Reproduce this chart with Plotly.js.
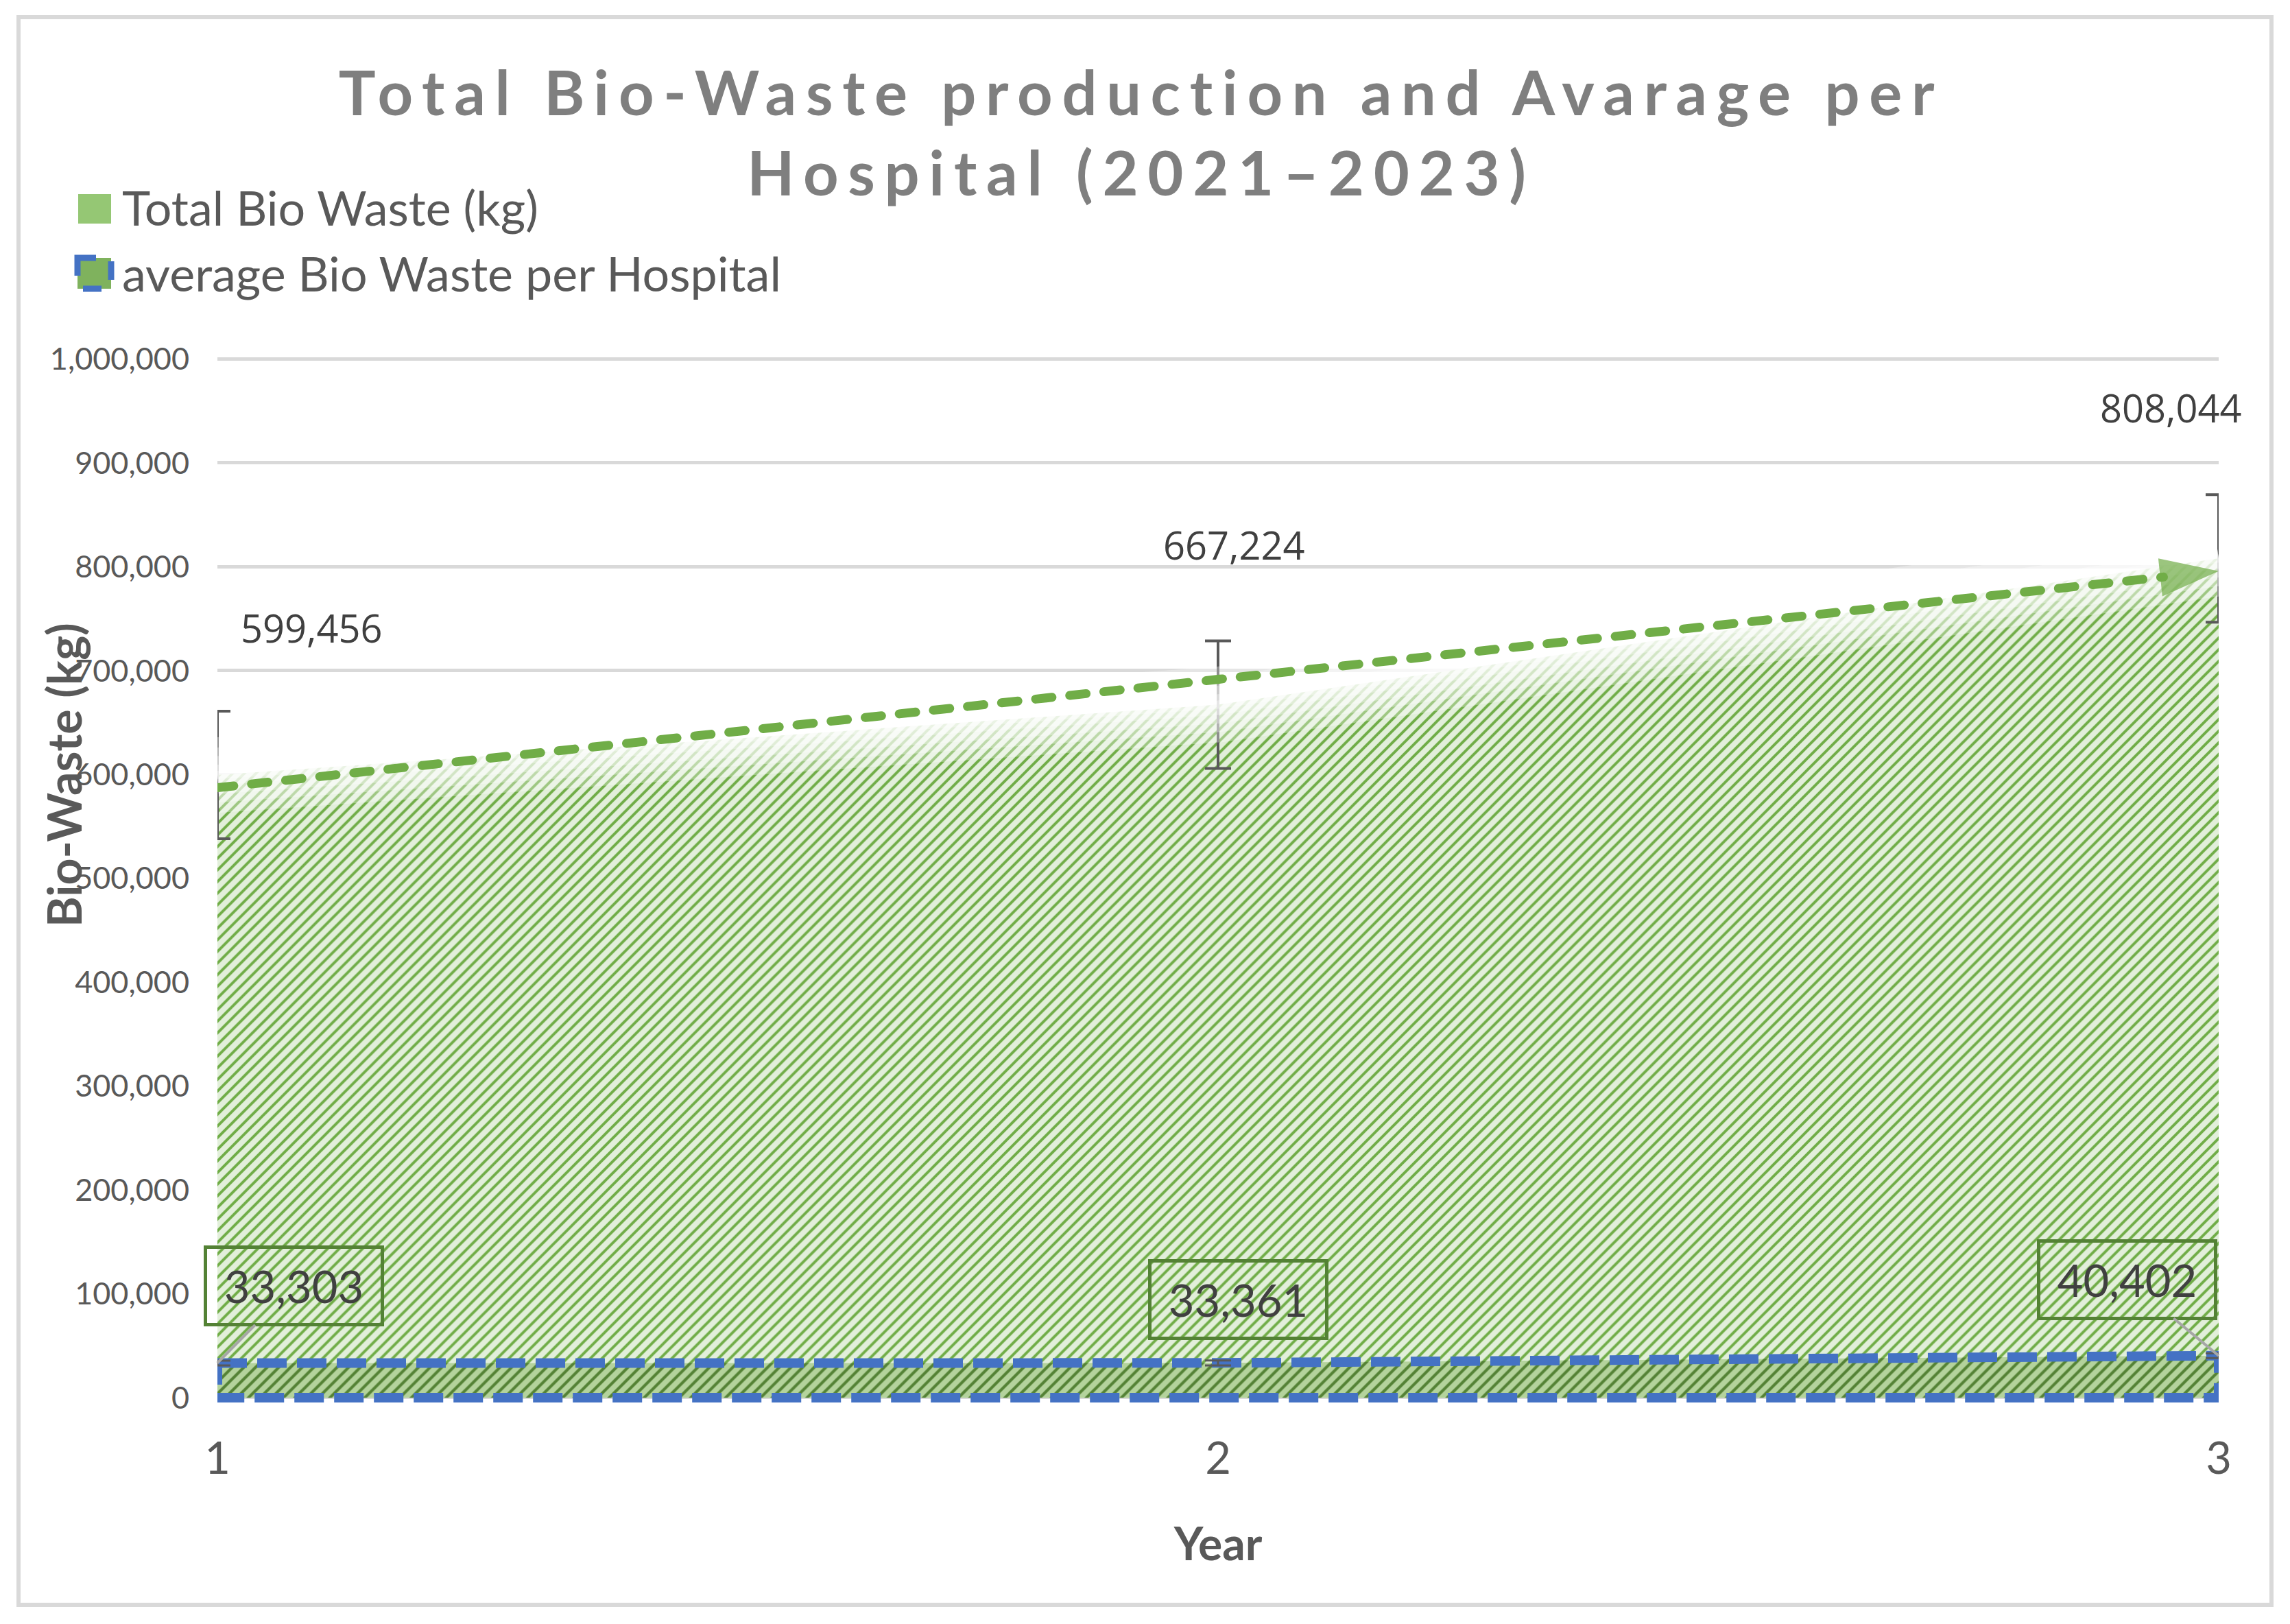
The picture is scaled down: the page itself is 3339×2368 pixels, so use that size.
<!DOCTYPE html>
<html><head><meta charset="utf-8">
<script src="https://cdn.plot.ly/plotly-3.0.1.min.js"></script>
<style>html,body{margin:0;padding:0;background:#fff}</style>
</head><body>
<div id="chart" style="width:3339px;height:2368px"></div>
<script>
// ---------- data ----------
const years = [1, 2, 3];
const yearLabels = ['1', '2', '3'];
const totalBioWaste = [599456, 667224, 808044];
const avgPerHospital = [33303, 33361, 40402];
const totalErr = [61433, 61433, 61433];
const avgErr = [2357, 2357, 2357];
const trendTotal = [587281, 691575, 795869];
const yTickVals = [0, 100000, 200000, 300000, 400000, 500000, 600000, 700000, 800000, 900000, 1000000];
const seriesNames = ['Total Bio Waste (kg)', 'average Bio Waste per Hospital'];
const titleText = 'Total Bio-Waste production and Avarage per<br>Hospital (2021–2023)';

// ---------- geometry / styles ----------
const W = 3339, H = 2368, L = 317, R = 3235, T = 522, B = 2045;
const yRange = [-4700, 1001000];
const px = v => (v - L) / (R - L);
const py = v => (B - v) / (B - T);
const fmt = v => v.toLocaleString('en-US');
const totalLabelShift = [[137, 215], [23, 233], [-70, 220]];
const avgLabelOffset = [[111, -112], [29, -92], [-134, -111]];
const avgLeaderVisible = [true, false, true];
const glowWidths = [110, 80, 55, 30, 12];

const traces = [
  {
    x: years, y: totalBioWaste, name: seriesNames[0], type: 'scatter', mode: 'lines',
    fill: 'tozeroy', line: {width: 0, color: 'rgba(0,0,0,0)'},
    fillcolor: '#e2efda',
    fillpattern: {shape: '/', fgcolor: '#70ad47', bgcolor: '#e2efda', size: 12, solidity: 0.33},
    error_y: {type: 'data', array: totalErr, visible: true, color: '#595959', thickness: 4, width: 19}
  }
];
glowWidths.forEach(w => traces.push({
  x: years, y: totalBioWaste, type: 'scatter', mode: 'lines',
  line: {color: 'rgba(255,255,255,0.32)', width: w}
}));
traces.push(
  {
    x: years.concat([...years].reverse(), [years[0]]),
    y: avgPerHospital.concat(years.map(() => 0), [avgPerHospital[0]]),
    name: seriesNames[1], type: 'scatter', mode: 'lines', fill: 'toself',
    fillcolor: '#b4d39c',
    fillpattern: {shape: '/', fgcolor: '#548235', bgcolor: '#b4d39c', size: 12, solidity: 0.35},
    line: {color: '#4472c4', width: 14, dash: '43px,15px'}
  },
  {
    x: years, y: avgPerHospital, type: 'scatter', mode: 'lines', line: {width: 0, color: 'rgba(0,0,0,0)'},
    error_y: {type: 'data', array: avgErr, visible: true, color: '#595959', thickness: 3, width: 19}
  },
  {
    x: years, y: trendTotal, type: 'scatter', mode: 'lines+markers',
    line: {color: '#70ad47', width: 13, dash: '24px,26px'},
    marker: {symbol: ['circle', 'circle', 'arrow'], size: [36, 0, 90], color: '#70ad47', angleref: 'previous', line: {width: 0}}
  }
);

const annotations = [];
annotations.push({xref: 'paper', yref: 'paper', x: px(176), y: py(302), xanchor: 'left', yanchor: 'middle', showarrow: false,
  text: seriesNames[0], font: {family: 'Lato', size: 70, color: '#595959'}});
annotations.push({xref: 'paper', yref: 'paper', x: px(176), y: py(398), xanchor: 'left', yanchor: 'middle', showarrow: false,
  text: seriesNames[1], font: {family: 'Lato', size: 70, color: '#595959'}});
annotations.push({xref: 'paper', yref: 'paper', x: px(92), y: py(1130), xanchor: 'center', yanchor: 'middle', showarrow: false,
  textangle: -90, text: 'Bio-Waste (kg)', font: {family: 'Lato', size: 68, color: '#595959', weight: 'bold'}});
years.forEach((yr, i) => annotations.push({
  x: yr, y: totalBioWaste[i], xref: 'x', yref: 'y', showarrow: false,
  xshift: totalLabelShift[i][0], yshift: totalLabelShift[i][1],
  text: fmt(totalBioWaste[i]), font: {family: 'Open Sans', size: 56, color: '#404040'}
}));
years.forEach((yr, i) => annotations.push({
  x: yr, y: avgPerHospital[i], xref: 'x', yref: 'y', showarrow: true,
  ax: avgLabelOffset[i][0], ay: avgLabelOffset[i][1], arrowhead: 0, arrowwidth: 4,
  arrowcolor: avgLeaderVisible[i] ? '#a6a6a6' : 'rgba(0,0,0,0)',
  bordercolor: '#548235', borderwidth: 5, borderpad: 0, width: 253, height: 108,
  text: fmt(avgPerHospital[i]), font: {family: 'Lato', size: 65, color: '#404040'}
}));

const shapes = [
  {type: 'rect', xref: 'paper', yref: 'paper', x0: px(27), x1: px(3312), y0: py(25), y1: py(2340),
   line: {color: '#d9d9d9', width: 6}, fillcolor: 'rgba(0,0,0,0)', layer: 'below'},
  {type: 'rect', xref: 'paper', yref: 'paper', x0: px(114), x1: px(162), y0: py(283), y1: py(326),
   line: {width: 0}, fillcolor: '#95c774'},
  {type: 'rect', xref: 'paper', yref: 'paper', x0: px(113), x1: px(162), y0: py(376), y1: py(421),
   line: {width: 9, color: '#4472c4', dash: 'dash'}, fillcolor: '#7fb25d'}
];

const layout = {
  width: W, height: H,
  margin: {l: L, r: W - R, t: T, b: H - B, pad: 0},
  paper_bgcolor: '#ffffff', plot_bgcolor: '#ffffff',
  showlegend: false,
  title: {
    text: titleText, xref: 'container', yref: 'container', x: 1664 / W, xanchor: 'center',
    y: 1 - 168 / H, yanchor: 'top',
    font: {family: 'Lato', size: 90, color: '#7f7f7f', weight: 'bold'}
  },
  xaxis: {
    range: [1, 3], tickvals: years, ticktext: yearLabels, showgrid: false, zeroline: false, showline: false,
    ticks: '', ticklabelstandoff: 38, tickfont: {family: 'Lato', size: 65, color: '#595959'},
    title: {text: 'Year', standoff: 66, font: {family: 'Lato', size: 66, color: '#595959', weight: 'bold'}}
  },
  yaxis: {
    range: yRange, tickvals: yTickVals, tickformat: ',d', showgrid: true, gridcolor: '#d9d9d9', gridwidth: 5,
    zeroline: false, showline: false, ticks: '', ticklabelstandoff: 40,
    tickfont: {family: 'Lato', size: 45, color: '#595959'}
  },
  annotations: annotations,
  shapes: shapes
};

Plotly.newPlot('chart', traces, layout, {displayModeBar: false, staticPlot: true}).then(() => {
  const tr = document.querySelectorAll('.scatterlayer .trace');
  const last = tr[tr.length - 1];
  if (last) last.querySelectorAll('.js-line').forEach(p => p.style.strokeLinecap = 'round');
  const title = document.querySelector('.gtitle');
  if (title) {
    const lines = title.querySelectorAll('tspan.line');
    const first = lines.length ? lines[0] : title;
    const w = first.getComputedTextLength();
    const n = first.textContent.length;
    const ls = (2342 - w) / n;
    if (ls > 0) title.style.letterSpacing = ls + 'px';
  }
});
</script>
</body></html>
